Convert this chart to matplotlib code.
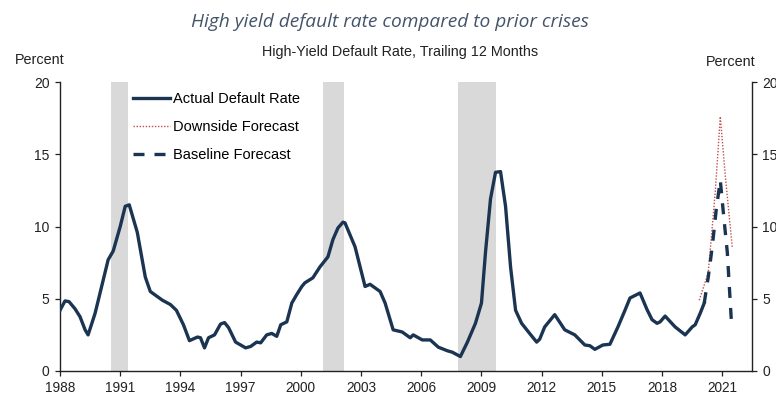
import numpy as np
import matplotlib
matplotlib.use("Agg")
import matplotlib.pyplot as plt

# trailing 12-month high-yield default rate, percent
actual_years = [1988.0, 1988.25, 1988.45, 1988.75, 1989.0, 1989.25, 1989.4, 1989.75,
                1990.4, 1990.65, 1991.0, 1991.25, 1991.45, 1991.85, 1992.25, 1992.5,
                1993.1, 1993.5, 1993.8, 1994.15, 1994.45, 1994.85, 1995.0, 1995.2,
                1995.4, 1995.7, 1996.0, 1996.2, 1996.4, 1996.75, 1997.25, 1997.5,
                1997.8, 1998.0, 1998.3, 1998.55, 1998.8, 1999.0, 1999.3, 1999.55,
                1999.8, 2000.05, 2000.2, 2000.6, 2000.95, 2001.35, 2001.6, 2001.85,
                2002.1, 2002.2, 2002.7, 2003.2, 2003.45, 2003.95, 2004.2, 2004.6,
                2005.05, 2005.45, 2005.6, 2006.05, 2006.45, 2006.85, 2007.3, 2007.55,
                2007.95, 2008.3, 2008.7, 2009.0, 2009.2, 2009.45, 2009.7, 2009.95,
                2010.2, 2010.45, 2010.7, 2011.0, 2011.4, 2011.75, 2011.9, 2012.15,
                2012.65, 2013.15, 2013.65, 2014.15, 2014.4, 2014.65, 2015.05, 2015.4,
                2015.8, 2016.15, 2016.4, 2016.9, 2017.25, 2017.5, 2017.75, 2017.9,
                2018.15, 2018.65, 2019.15, 2019.5, 2019.65, 2019.9, 2020.1]
actual_rate = [4.2, 4.85, 4.8, 4.3, 3.75, 2.85, 2.5, 4.0,
               7.7, 8.3, 10.0, 11.4, 11.5, 9.6, 6.5, 5.5,
               4.9, 4.6, 4.2, 3.2, 2.1, 2.35, 2.3, 1.6,
               2.3, 2.5, 3.25, 3.35, 3.0, 2.0, 1.6, 1.7,
               2.0, 1.95, 2.5, 2.6, 2.4, 3.2, 3.4, 4.7,
               5.3, 5.85, 6.1, 6.45, 7.2, 7.9, 9.1, 9.9,
               10.3, 10.25, 8.6, 5.85, 6.0, 5.5, 4.7, 2.85,
               2.7, 2.3, 2.5, 2.15, 2.15, 1.65, 1.4, 1.3,
               1.0, 2.0, 3.3, 4.7, 8.2, 11.9, 13.75, 13.8,
               11.4, 7.2, 4.2, 3.3, 2.6, 2.0, 2.2, 3.05,
               3.9, 2.85, 2.5, 1.8, 1.75, 1.5, 1.8, 1.85,
               3.05, 4.2, 5.05, 5.4, 4.25, 3.55, 3.3, 3.4,
               3.8, 3.05, 2.5, 3.05, 3.2, 4.0, 4.7]

downside_years = [2019.85, 2020.3, 2020.65, 2020.9, 2021.15, 2021.5]
downside_rate = [4.9, 6.8, 12.4, 17.6, 13.5, 8.5]

baseline_years = [2020.1, 2020.3, 2020.5, 2020.7, 2020.9, 2021.05, 2021.25, 2021.45]
baseline_rate = [4.7, 6.5, 8.6, 11.2, 13.2, 11.0, 8.2, 3.5]

recessions = [(1990.55, 1991.4), (2001.1, 2002.15), (2007.85, 2009.7)]

year_ticks = [1988, 1991, 1994, 1997, 2000, 2003, 2006, 2009, 2012, 2015, 2018, 2021]
pct_ticks = [0, 5, 10, 15, 20]

navy = "#1b3452"
red = "#c0504d"
ink = "#222222"
arial = "Liberation Sans"

fig = plt.figure(figsize=(7.76, 3.94), dpi=100)
ax = fig.add_axes([60 / 776, 1 - 371 / 394, 692 / 776, 289 / 394])

# shaded recession periods
for start, end in recessions:
    ax.axvspan(start, end, ymin=0, ymax=1, color="#d9d9d9", lw=0, zorder=0)

ax.plot(actual_years, actual_rate, color=navy, lw=2.4, solid_joinstyle="round",
        label="Actual Default Rate", zorder=3)
ax.plot(downside_years, downside_rate, color=red, lw=1.0, ls=(0, (1, 1.2)),
        label="Downside Forecast", zorder=2)
ax.plot(baseline_years, baseline_rate, color=navy, lw=2.4, ls=(0, (3.3, 3)),
        label="Baseline Forecast", zorder=4)

ax.set_xlim(1988, 2022.48)
ax.set_ylim(0, 20)
ax.set_xticks(year_ticks)
ax.set_yticks(pct_ticks)
ax.spines["top"].set_visible(False)
for side in ["left", "right", "bottom"]:
    ax.spines[side].set_linewidth(1.0)
    ax.spines[side].set_color(ink)
ax.tick_params(axis="both", direction="out", length=3.5, width=0.9, color=ink,
               labelsize=10, labelcolor=ink)
ax.tick_params(axis="x", labelsize=9.8, pad=3.5)
ax.tick_params(axis="y", right=True, labelright=True, pad=4)
for lbl in ax.get_xticklabels() + ax.get_yticklabels():
    lbl.set_fontfamily(arial)

leg = ax.legend(loc="upper left", bbox_to_anchor=(0.091, 1.0), frameon=False,
                handlelength=2.5, handletextpad=0.25, labelspacing=0.95,
                borderaxespad=0.3, prop={"family": arial, "size": 10.5})

fig.text(0.503, 1 - 22 / 394, "High yield default rate compared to prior crises",
         ha="center", va="center", fontsize=13.8, style="italic",
         family="Open Sans", color="#44546a")
fig.text(0.515, 1 - 52 / 394, "High-Yield Default Rate, Trailing 12 Months",
         ha="center", va="center", fontsize=10.4, family=arial, color=ink)
fig.text(40 / 776, 1 - 60 / 394, "Percent", ha="center", va="center",
         fontsize=10.4, family=arial, color=ink)
fig.text(731 / 776, 1 - 62 / 394, "Percent", ha="center", va="center",
         fontsize=10.4, family=arial, color=ink)

fig.savefig("out.png", dpi=100)
